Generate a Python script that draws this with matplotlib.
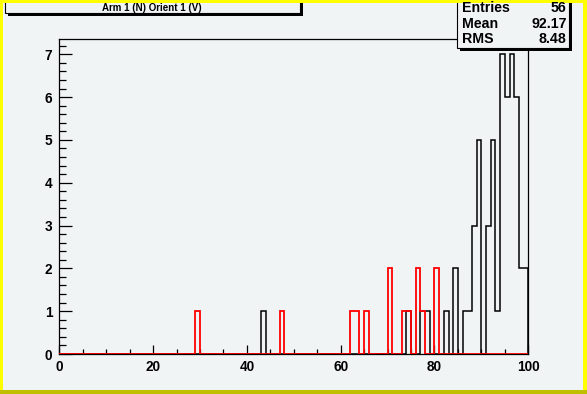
import numpy as np
import matplotlib
matplotlib.use("Agg")
import matplotlib.pyplot as plt
from matplotlib.patches import Rectangle
from matplotlib.ticker import MultipleLocator

# ---- data (100 bins from 0 to 100) ----
bin_edges = np.arange(0, 101, 1)
black_bins = [43, 74, 77, 78, 82, 84, 86, 87, 88, 89, 91, 92, 93, 94, 95, 96, 97, 98, 99]
black_heights = [1, 1, 1, 1, 1, 2, 1, 1, 3, 5, 3, 5, 1, 7, 6, 7, 6, 2, 2]
red_bins = [29, 47, 62, 63, 65, 70, 73, 74, 76, 77, 80]
red_heights = [1, 1, 1, 1, 1, 2, 1, 1, 2, 1, 2]
title = "Arm 1 (N) Orient 1 (V)"
stats_labels = ["Entries", "Mean", "RMS"]
stats_values = ["56", "92.17", "8.48"]
x_ticks = [0, 20, 40, 60, 80, 100]
y_ticks = [0, 1, 2, 3, 4, 5, 6, 7]

black_counts = np.zeros(100)
black_counts[black_bins] = black_heights
red_counts = np.zeros(100)
red_counts[red_bins] = red_heights

W, H = 587, 394
bg = "#f1f4f5"
fig = plt.figure(figsize=(W / 100, H / 100), dpi=100, facecolor=bg)

ax_l, ax_r, ax_t, ax_b = 59.3, 528.3, 39.3, 354.0
ax = fig.add_axes([ax_l / W, (H - ax_b) / H, (ax_r - ax_l) / W, (ax_b - ax_t) / H])
ax.set_facecolor(bg)
ax.stairs(black_counts, bin_edges, color="black", linewidth=1.1, zorder=3)
ax.stairs(red_counts, bin_edges, color="red", linewidth=1.3, zorder=4)
ax.set_xlim(0, 100)
ax.set_ylim(0, 7.35)

for s in ax.spines.values():
    s.set_linewidth(0.9)
    s.set_color("black")

ax.set_xticks(x_ticks)
ax.set_yticks(y_ticks)
ax.xaxis.set_minor_locator(MultipleLocator(5))
ax.yaxis.set_minor_locator(MultipleLocator(0.2))
lab_font = dict(family="Liberation Sans", weight="bold", size=9.8)
ax.set_xticklabels([str(v) for v in x_ticks], **lab_font)
ax.set_yticklabels([str(v) for v in y_ticks], **lab_font)
ax.tick_params(axis="x", which="major", direction="in", length=6.5, width=0.9, pad=4)
ax.tick_params(axis="x", which="minor", direction="in", length=3.6, width=0.9)
ax.tick_params(axis="y", which="major", direction="in", length=9.6, width=0.9, pad=5)
ax.tick_params(axis="y", which="minor", direction="in", length=4.8, width=0.9)

# ---- overlay in pixel coordinates ----
ov = fig.add_axes([0, 0, 1, 1], zorder=10)
ov.set_xlim(0, W)
ov.set_ylim(H, 0)
ov.axis("off")
ov.patch.set_alpha(0)

# title box
ov.add_patch(Rectangle((7.5, -3), 295, 18.5, facecolor="black", edgecolor="none"))
ov.add_patch(Rectangle((5, -3), 295, 16.3, facecolor=bg, edgecolor="black", linewidth=0.8))
ov.text(152, 7.8, title, ha="center", va="center", family="Liberation Sans",
        weight="bold", size=7)

# stats box
ov.add_patch(Rectangle((460, -3), 112, 53.7, facecolor="black", edgecolor="none"))
ov.add_patch(Rectangle((457, -3), 112, 50.7, facecolor=bg, edgecolor="black", linewidth=0.8))
rows_y = [7.5, 23.5, 39.0]
for lbl, val, yy in zip(stats_labels, stats_values, rows_y):
    ov.text(462, yy, lbl, ha="left", va="center", family="Liberation Sans",
            weight="bold", size=10.2)
    ov.text(566.5, yy, val, ha="right", va="center", family="Liberation Sans",
            weight="bold", size=10.2)

# canvas border (yellow bevel)
ov.add_patch(Rectangle((0, 0), W, 3, facecolor="#ffff00", edgecolor="none"))
ov.add_patch(Rectangle((0, 0), 3, H, facecolor="#ffff00", edgecolor="none"))
ov.add_patch(Rectangle((W - 4, 0), 4, H, facecolor="#ffff00", edgecolor="none"))
ov.add_patch(Rectangle((0, H - 4), W, 4, facecolor="#bfbf00", edgecolor="none"))

fig.savefig("out.png", dpi=100, facecolor=bg)
